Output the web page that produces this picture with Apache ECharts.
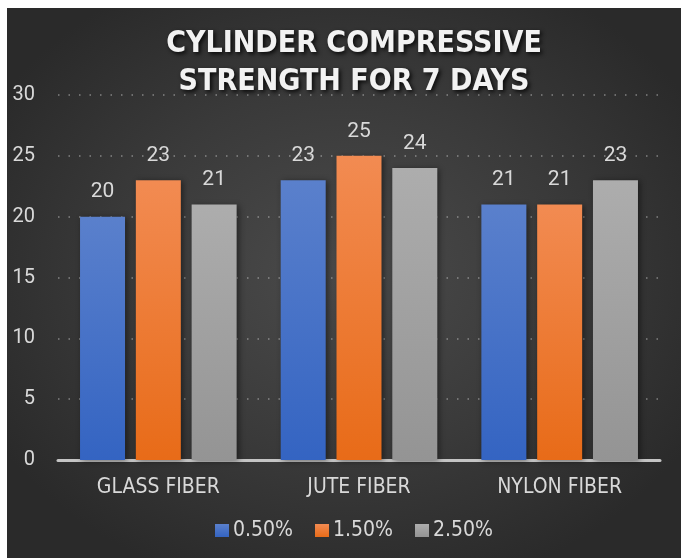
<!DOCTYPE html>
<html>
<head>
<meta charset="utf-8">
<script src="https://cdn.jsdelivr.net/npm/echarts@6/dist/echarts.min.js"></script>
<style>
  html, body { margin: 0; padding: 0; background: #fff; overflow: hidden; }
  #bg {
    position: absolute; left: 7px; top: 8px; width: 674px; height: 550px;
    background: radial-gradient(ellipse 60% 60% at 50% 48%, #4b4b4b 0%, #3a3a3a 55%, #2a2a2a 100%);
  }
  #chart { position: absolute; left: 7px; top: 8px; width: 694px; height: 550px; }
</style>
</head>
<body>
<div id="bg"></div>
<div id="chart"></div>
<script>
// categories and series values
const fibers = ["GLASS FIBER", "JUTE FIBER", "NYLON FIBER"]
const seriesNames = ["0.50%", "1.50%", "2.50%"]
const pct050 = [20, 23, 21]
const pct150 = [23, 25, 21]
const pct250 = [21, 24, 23]

const chart = echarts.init(document.getElementById("chart"))

// vertical gradient for each bar colour
const grad = (top, bottom) =>
  new echarts.graphic.LinearGradient(0, 0, 0, 1, [
    { offset: 0, color: top },
    { offset: 1, color: bottom }
  ])

const barColors = [
  grad("#5a80cc", "#3464c2"),
  grad("#f28b52", "#e86b18"),
  grad("#adadad", "#949494")
]

const narrowFont = "Liberation Sans Narrow, DejaVu Sans Condensed"

const makeSeries = (name, data, i) => ({
  name: name,
  type: "bar",
  data: data,
  barWidth: 45,
  barGap: "24%",
  itemStyle: {
    color: barColors[i],
    shadowColor: "rgba(0,0,0,0.45)",
    shadowBlur: 6,
    shadowOffsetX: 2,
    shadowOffsetY: 1
  },
  label: {
    show: true,
    position: "top",
    distance: 14,
    color: "#d9d9d9",
    fontFamily: "Roboto",
    fontSize: 21
  }
})

const option = {
  animation: false,
  title: {
    text: "CYLINDER COMPRESSIVE\nSTRENGTH FOR 7 DAYS",
    left: "center",
    top: 12,
    textStyle: {
      color: "#f2f2f2",
      fontFamily: "DejaVu Sans Condensed",
      fontWeight: "bold",
      fontSize: 30,
      lineHeight: 38,
      textShadowColor: "rgba(0,0,0,0.85)",
      textShadowBlur: 4,
      textShadowOffsetX: 2,
      textShadowOffsetY: 2
    }
  },
  legend: {
    data: seriesNames,
    left: "center",
    top: 507,
    itemWidth: 14,
    itemHeight: 13,
    itemGap: 22,
    icon: "rect",
    textStyle: {
      color: "#d9d9d9",
      fontFamily: narrowFont,
      fontSize: 21,
      padding: [0, 0, 0, -1]
    }
  },
  grid: {
    left: 51,
    right: 41,
    top: 87,
    bottom: 98
  },
  xAxis: {
    type: "category",
    data: fibers,
    axisTick: { show: false },
    axisLine: {
      lineStyle: { color: "#c4c4c4", width: 3 }
    },
    axisLabel: {
      margin: 17,
      color: "#d9d9d9",
      fontFamily: narrowFont,
      fontSize: 21
    }
  },
  yAxis: {
    type: "value",
    min: 0,
    max: 30,
    interval: 5,
    axisLine: { show: false },
    axisTick: { show: false },
    axisLabel: {
      margin: 23,
      color: "#d9d9d9",
      fontFamily: "Roboto",
      fontSize: 20
    },
    splitLine: {
      lineStyle: { color: "rgba(200,200,200,0.55)", width: 1.5, type: [1.5, 9] }
    }
  },
  series: [
    makeSeries(seriesNames[0], pct050, 0),
    makeSeries(seriesNames[1], pct150, 1),
    makeSeries(seriesNames[2], pct250, 2)
  ]
}

chart.setOption(option)
</script>
</body>
</html>
